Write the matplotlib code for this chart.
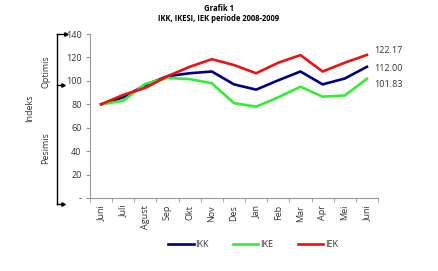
import matplotlib.pyplot as plt
import numpy as np

plt.rcParams['font.family'] = ['Open Sans', 'DejaVu Sans']

# data
months = ["Juni", "Juli", "Agust", "Sep", "Okt", "Nov", "Des",
          "Jan", "Feb", "Mar", "Apr", "Mei", "Juni"]
ikk = [80, 86, 96.5, 104, 106.5, 108, 97, 92.5, 100.5, 108, 97, 102, 112.00]
ike = [80, 83, 97.5, 102.5, 101.5, 98, 81, 78, 86, 95, 86.5, 87.5, 101.83]
iek = [80, 88, 94, 104, 112, 118.5, 113.5, 106.5, 115.5, 122, 108, 115.5, 122.17]
y_ticks = [0, 20, 40, 60, 80, 100, 120, 140]
y_tick_labels = ["-", "20", "40", "60", "80", "100", "120", "140"]

fig = plt.figure(figsize=(4.38, 2.71), dpi=100)
ax = fig.add_axes([0.2055, 0.2694, 0.6575, 0.6051])

x = np.arange(len(months))
ax.plot(x, ikk, color="#000080", lw=1.9, label="IKK")
ax.plot(x, ike, color="#33ee33", lw=1.9, label="IKE")
ax.plot(x, iek, color="#ee1111", lw=1.9, label="IEK")

ax.set_xlim(-0.5, len(months) - 0.5)
ax.set_ylim(0, 140)
ax.set_yticks(y_ticks)
ax.set_yticklabels(y_tick_labels)
ax.set_xticks(x)
ax.set_xticklabels(months, rotation=90)
ax.set_xticks(np.arange(-0.5, len(months)), minor=True)
ax.tick_params(axis="x", which="major", length=0, pad=5, labelsize=6.5, labelcolor="#333333")
ax.tick_params(axis="x", which="minor", length=3, color="#999999", direction="out")
ax.tick_params(axis="y", length=3, color="#999999", labelsize=6.5, labelcolor="#333333", pad=3)

for s in ["top", "right"]:
    ax.spines[s].set_visible(False)
for s in ["left", "bottom"]:
    ax.spines[s].set_color("#999999")
    ax.spines[s].set_linewidth(0.8)

# end value labels
ax.annotate(f"{iek[-1]:.2f}", (x[-1], iek[-1]), xytext=(5, 3), textcoords="offset points",
            fontsize=6.5, color="#333333", va="center")
ax.annotate(f"{ikk[-1]:.2f}", (x[-1], ikk[-1]), xytext=(5, -1), textcoords="offset points",
            fontsize=6.5, color="#333333", va="center")
ax.annotate(f"{ike[-1]:.2f}", (x[-1], ike[-1]), xytext=(5, -4), textcoords="offset points",
            fontsize=6.5, color="#333333", va="center")

# titles
fig.text(0.5, 0.985, "Grafik 1", ha="center", va="top", fontsize=5.5, fontweight="bold")
fig.text(0.5, 0.95, "IKK, IKESI, IEK periode 2008-2009", ha="center", va="top",
         fontsize=5.5, fontweight="bold")

# left side annotations
fig.text(30 / 438, 1 - 108 / 271, "Indeks", rotation=90, ha="center", va="center",
         fontsize=6.5, color="#333333")
fig.text(46 / 438, 1 - 72 / 271, "Optimis", rotation=90, ha="center", va="center",
         fontsize=6.5, color="#333333")
fig.text(46 / 438, 1 - 148 / 271, "Pesimis", rotation=90, ha="center", va="center",
         fontsize=6.5, color="#333333")

bx = 57 / 438
fig.add_artist(plt.Line2D([bx, bx], [1 - 34 / 271, 1 - 204 / 271], color="black", lw=1.0,
                          transform=fig.transFigure))
for yy, xe in [(34, 66), (85, 63), (204, 63)]:
    fig.add_artist(plt.Line2D([bx, xe / 438], [1 - yy / 271, 1 - yy / 271], color="black",
                              lw=1.0, transform=fig.transFigure))
    fig.add_artist(plt.Line2D([xe / 438], [1 - yy / 271], marker=">", markersize=2.5,
                              color="black", transform=fig.transFigure))

ax.legend(loc="upper center", bbox_to_anchor=(0.566, -0.205), ncol=3, frameon=False,
          fontsize=6.5, handlelength=2.8, handletextpad=0.2, columnspacing=2.7,
          labelcolor="#333333")

fig.savefig("out.png", dpi=100)
